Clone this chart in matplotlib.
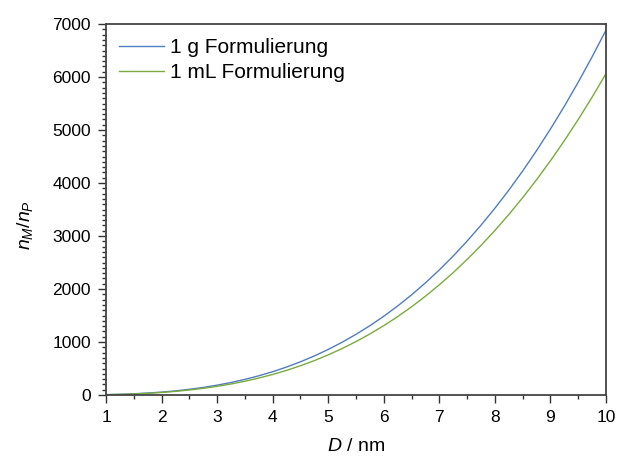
import matplotlib

matplotlib.use("Agg")
import matplotlib.pyplot as plt
from matplotlib.ticker import MultipleLocator

# Values (D in nm, ratio n_M/n_P)
diameter_nm = [1.0, 1.25, 1.5, 1.75, 2.0, 2.25, 2.5, 2.75, 3.0, 3.25,
               3.5, 3.75, 4.0, 4.25, 4.5, 4.75, 5.0, 5.25, 5.5, 5.75,
               6.0, 6.25, 6.5, 6.75, 7.0, 7.25, 7.5, 7.75, 8.0, 8.25,
               8.5, 8.75, 9.0, 9.25, 9.5, 9.75, 10.0]
ratio_1g = [7, 13, 23, 37, 55, 78, 108, 143, 186, 236,
            295, 363, 440, 528, 627, 737, 860, 996, 1145, 1308,
            1486, 1680, 1889, 2116, 2360, 2622, 2903, 3203, 3523, 3863,
            4225, 4609, 5016, 5445, 5899, 6377, 6880]
ratio_1ml = [6, 12, 20, 32, 48, 69, 95, 126, 164, 208,
             260, 320, 388, 465, 552, 649, 758, 877, 1008, 1152,
             1309, 1479, 1664, 1864, 2079, 2309, 2557, 2821, 3103, 3403,
             3722, 4060, 4418, 4796, 5196, 5617, 6060]
labels = ["1 g Formulierung", "1 mL Formulierung"]
colors = ["#4f7dbf", "#7aab3c"]

plt.rcParams["font.family"] = ["Liberation Sans", "DejaVu Sans"]
plt.rcParams["mathtext.fontset"] = "custom"
plt.rcParams["mathtext.it"] = "Liberation Sans:italic"
plt.rcParams["mathtext.rm"] = "Liberation Sans"

fig = plt.figure(figsize=(6.17, 4.59), dpi=100)
ax = fig.add_axes([0.172, 0.1394, 0.810, 0.8083])

ax.plot(diameter_nm, ratio_1g, color=colors[0], linewidth=1.0, label=labels[0])
ax.plot(diameter_nm, ratio_1ml, color=colors[1], linewidth=1.0, label=labels[1])

ax.set_xlim(1, 10)
ax.set_ylim(0, 7000)
ax.xaxis.set_major_locator(MultipleLocator(1))
ax.xaxis.set_minor_locator(MultipleLocator(0.5))
ax.yaxis.set_major_locator(MultipleLocator(1000))
ax.yaxis.set_minor_locator(MultipleLocator(100))
ax.tick_params(which="both", direction="out", top=False, right=False,
               labelsize=12.5, color="#333333", width=1.0, pad=5)
ax.tick_params(which="major", length=6)
ax.tick_params(which="minor", length=3)
for spine in ax.spines.values():
    spine.set_color("#444444")
    spine.set_linewidth(1.3)

ax.set_xlabel("$D$ / nm", fontsize=14, labelpad=9)
ax.set_ylabel("$n_M/n_P$", fontsize=14)
ax.yaxis.set_label_coords(-0.142, 0.458)

ax.legend(loc="upper left", frameon=False, fontsize=15, handlelength=2.2,
          handletextpad=0.25, labelspacing=0.28, borderaxespad=0.2,
          bbox_to_anchor=(0.0, 0.995))

fig.savefig("out.png", dpi=100)
